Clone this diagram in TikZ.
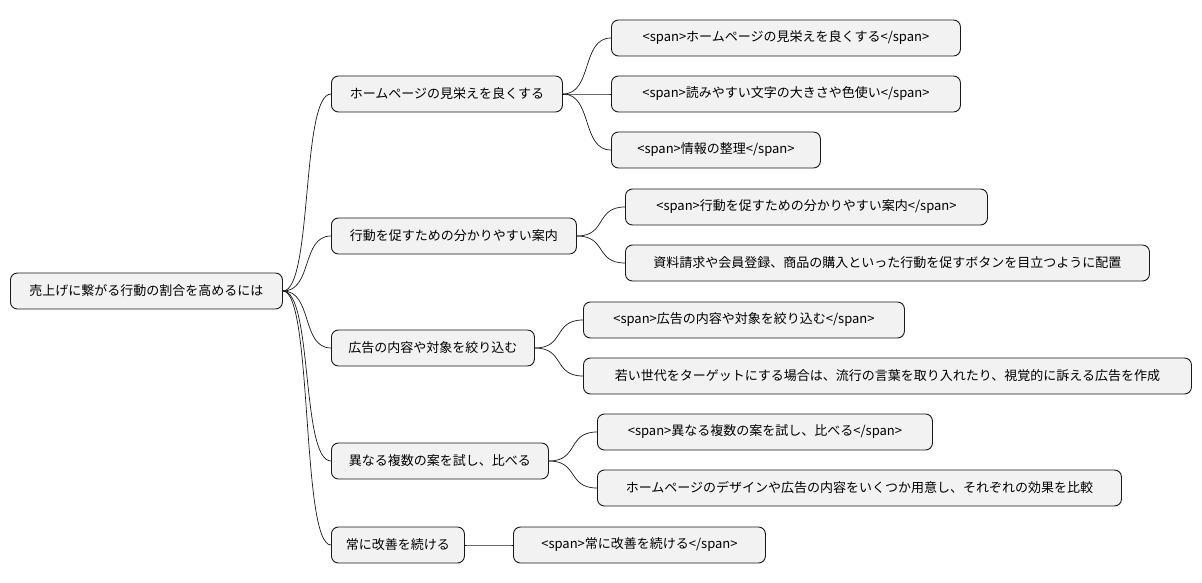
\documentclass[tikz,border=0pt]{standalone}
\usepackage{fontspec}
\setmainfont{Noto Sans CJK JP}
\begin{document}
\begin{tikzpicture}[x=1pt,y=-1pt,
  box/.style={draw=black!90, fill=gray!10, rounded corners=7pt, line width=0.9pt,
    minimum height=36pt, inner xsep=8pt, anchor=west, font=\fontsize{13}{15}\selectfont},
  link/.style={draw=black!90, line width=0.7pt}]
\fill[white] (0,0) rectangle (1202,583);
\useasboundingbox (0,0) rectangle (1202,583);
\node[box,minimum width=272pt] (r) at (10,291) {売上げに繋がる行動の割合を高めるには};
\node[box,minimum width=231pt] (a) at (331,94) {ホームページの見栄えを良くする};
\node[box,minimum width=349pt] (a1) at (611,38) {<span>ホームページの見栄えを良くする</span>};
\node[box,minimum width=349pt] (a2) at (611,94) {<span>読みやすい文字の大きさや色使い</span>};
\node[box,minimum width=209pt] (a3) at (611,150) {<span>情報の整理</span>};
\node[box,minimum width=245pt] (b) at (331,236) {行動を促すための分かりやすい案内};
\node[box,minimum width=362pt] (b1) at (625,207) {<span>行動を促すための分かりやすい案内</span>};
\node[box,minimum width=524pt] (b2) at (625,263) {資料請求や会員登録、商品の購入といった行動を促すボタンを目立つように配置};
\node[box,minimum width=203pt] (c) at (331,348) {広告の内容や対象を絞り込む};
\node[box,minimum width=321pt] (c1) at (583,320) {<span>広告の内容や対象を絞り込む</span>};
\node[box,minimum width=608pt] (c2) at (583,376) {若い世代をターゲットにする場合は、流行の言葉を取り入れたり、視覚的に訴える広告を作成};
\node[box,minimum width=217pt] (d) at (331,461) {異なる複数の案を試し、比べる};
\node[box,minimum width=335pt] (d1) at (597,432) {<span>異なる複数の案を試し、比べる</span>};
\node[box,minimum width=524pt] (d2) at (597,488) {ホームページのデザインや広告の内容をいくつか用意し、それぞれの効果を比較};
\node[box,minimum width=133pt] (e) at (331,545) {常に改善を続ける};
\node[box,minimum width=252pt] (e1) at (513,545) {<span>常に改善を続ける</span>};
\foreach \p/\c in {r/a,r/b,r/c,r/d,r/e,a/a1,a/a2,a/a3,b/b1,b/b2,c/c1,c/c2,d/d1,d/d2,e/e1}
  \draw[link] (\p.east) .. controls +(30,0) and +(-30,0) .. (\c.west);
\end{tikzpicture}
\end{document}
